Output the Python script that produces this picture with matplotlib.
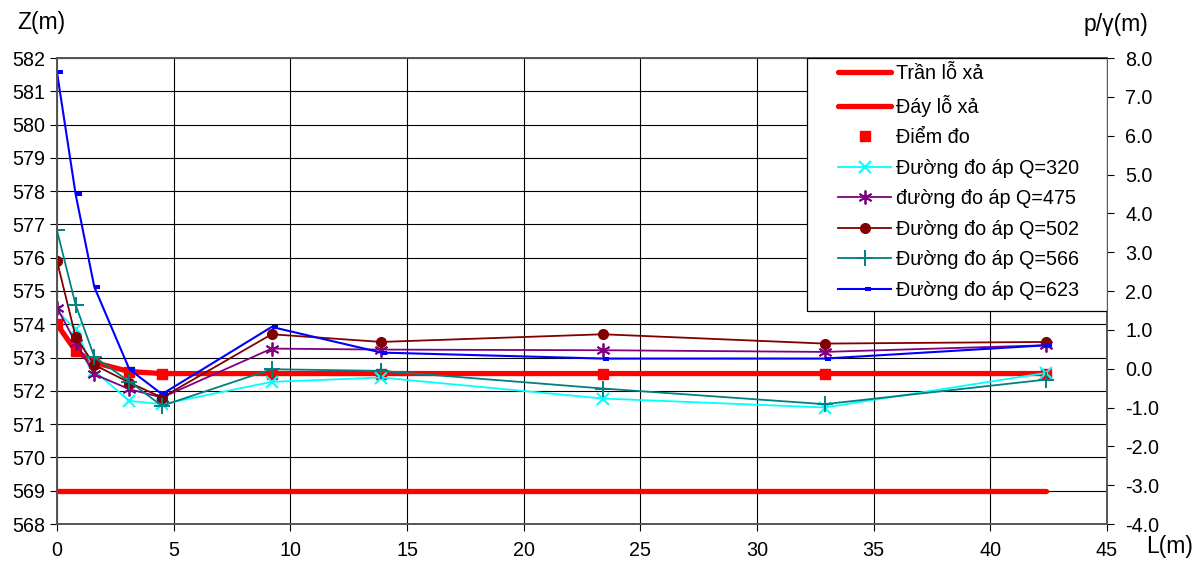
import matplotlib
matplotlib.use("Agg")
import matplotlib.pyplot as plt
from matplotlib.path import Path
from matplotlib.patches import Rectangle
import numpy as np

plt.rcParams['font.family'] = ['Liberation Sans', 'DejaVu Sans']

# ---- data ----
L = [0, 0.8, 1.6, 3.1, 4.5, 9.2, 13.9, 23.4, 32.9, 42.4]
tran_lo_xa = [574.0, 573.2, 572.85, 572.58, 572.52, 572.52, 572.52, 572.52, 572.52, 572.52]
day_lo_xa = [569.0] * 10
diem_do = tran_lo_xa
q320 = [574.4, 573.85, 572.6, 571.7, 571.6, 572.27, 572.4, 571.77, 571.5, 572.54]
q475 = [574.5, 573.45, 572.5, 572.05, 571.8, 573.27, 573.24, 573.22, 573.17, 573.37]
q502 = [575.9, 573.62, 572.78, 572.25, 571.8, 573.7, 573.47, 573.7, 573.42, 573.47]
q566 = [576.82, 574.58, 573.02, 572.28, 571.55, 572.65, 572.6, 572.07, 571.6, 572.34]
q623 = [581.57, 577.9, 575.12, 572.65, 571.9, 573.92, 573.15, 572.97, 572.97, 573.37]

x_ticks = [0, 5, 10, 15, 20, 25, 30, 35, 40, 45]
z_ticks = list(range(568, 583))
p_ticks = [-4.0, -3.0, -2.0, -1.0, 0.0, 1.0, 2.0, 3.0, 4.0, 5.0, 6.0, 7.0, 8.0]
p_labels = ["-4.0", "-3.0", "-2.0", "-1.0", "0.0", "1.0", "2.0", "3.0", "4.0", "5.0", "6.0", "7.0", "8.0"]

labels = ["Trần lỗ xả", "Đáy lỗ xả", "Điểm đo", "Đường đo áp Q=320", "đường đo áp Q=475",
          "Đường đo áp Q=502", "Đường đo áp Q=566", "Đường đo áp Q=623"]

W, H = 1201, 561
fig = plt.figure(figsize=(W / 100, H / 100), dpi=100)
ax = fig.add_axes([57 / W, 1 - 524 / H, (1107 - 57) / W, (524 - 58) / H])

FS = 14.2
LFS = 16.5

# right-offset dash marker (Excel style)
dash = Path([(0, -0.28), (1, -0.28), (1, 0.28), (0, 0.28), (0, -0.28)],
            [Path.MOVETO, Path.LINETO, Path.LINETO, Path.LINETO, Path.CLOSEPOLY])

h1, = ax.plot(L, tran_lo_xa, color='#FF0000', lw=3.8, solid_capstyle='round', zorder=3)
h2, = ax.plot(L, day_lo_xa, color='#FF0000', lw=3.8, solid_capstyle='round', zorder=3)
h3, = ax.plot(L, diem_do, ls='none', marker='s', ms=7.5, color='#FF0000', zorder=4)
h4, = ax.plot(L, q320, color='#00FFFF', lw=1.3, marker='x', ms=9, mew=1.5, zorder=5)
h5, = ax.plot(L, q475, color='#800080', lw=1.3, marker=(6, 2, 0), ms=10, mew=1.3, zorder=5)
h6, = ax.plot(L, q502, color='#800000', lw=1.3, marker='o', ms=7, zorder=5)
h7, = ax.plot(L, q566, color='#008080', lw=1.3, marker='+', ms=11, mew=1.4, zorder=5)
h8, = ax.plot(L, q623, color='#0000FF', lw=1.5, marker=dash, ms=9, mew=0, zorder=5)

ax.set_xlim(0, 45)
ax.set_ylim(568, 582)
ax.set_xticks(x_ticks)
ax.set_yticks(z_ticks)
ax.grid(True, color='black', lw=0.8)
ax.set_axisbelow(True)
ax.tick_params(axis='both', labelsize=FS, length=5, width=0.8, direction='out', colors='black')
ax.tick_params(axis='x', pad=7)
for s in ax.spines.values():
    s.set_color('#555555')
    s.set_linewidth(1.2)

ax2 = ax.twinx()
ax2.set_ylim(-4, 8)
ax2.set_yticks(p_ticks)
ax2.set_yticklabels(p_labels)
ax2.tick_params(axis='y', labelsize=FS, length=5, width=0.8, direction='out', pad=8)
for s in ax2.spines.values():
    s.set_color('#555555')
    s.set_linewidth(1.2)

fig.text(17 / W, 1 - 22 / H, "Z(m)", fontsize=LFS, va='center', ha='left')
fig.text(1084 / W, 1 - 24 / H, "p/γ(m)", fontsize=LFS, va='center', ha='left')
fig.text(1146 / W, 1 - 546 / H, "L(m)", fontsize=LFS, va='center', ha='left')

# legend frame
frame = Rectangle((807 / W, 1 - 311 / H), (1107 - 807) / W, (311 - 58) / H,
                  transform=fig.transFigure, facecolor='white', edgecolor='black',
                  lw=0.9, zorder=6)
ax2.add_artist(frame)

leg = ax2.legend([h1, h2, h3, h4, h5, h6, h7, h8], labels, loc='upper left',
                 bbox_to_anchor=(838 / W, 1 - 64 / H), bbox_transform=fig.transFigure,
                 borderaxespad=0, borderpad=0, fontsize=FS, frameon=False,
                 handlelength=2.7, handletextpad=0.25, labelspacing=0.585)
leg.set_zorder(7)

fig.savefig("out.png", dpi=100)
